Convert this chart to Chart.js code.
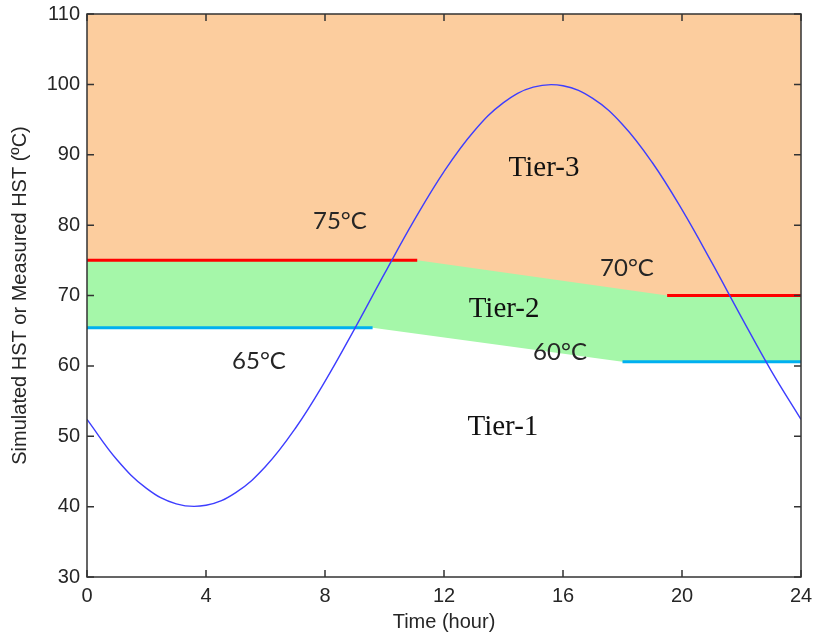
<!DOCTYPE html>
<html>
<head>
<meta charset="utf-8">
<script src="https://cdn.jsdelivr.net/npm/chart.js@4.4.0/dist/chart.umd.min.js"></script>
<style>
  html, body { margin: 0; padding: 0; background: #fff; }
</style>
</head>
<body>
<canvas id="c" width="815" height="636"></canvas>
<script>
// Curva de HST ao longo do dia (de hora em hora)
const hours = [0, 1, 2, 3, 4, 5, 6, 7, 8, 9, 10, 11, 12, 13, 14, 15, 16, 17, 18, 19, 20, 21, 22, 23, 24];
const hst = [52.4, 46.7, 42.6, 40.4, 40.2, 42.0, 45.7, 51.1, 57.8, 65.3, 73.1, 80.7, 87.6, 93.3, 97.4, 99.6, 99.8, 98.0, 94.3, 88.9, 82.2, 74.7, 66.9, 59.3, 52.4];

// Limites dos tiers (75/70 °C e 65/60 °C)
const upperHours = [0, 11.1, 19.5, 24];
const upperLimit = [75, 75, 70, 70];
const lowerHours = [0, 9.6, 18, 24];
const lowerLimit = [65.4, 65.4, 60.6, 60.6];

const xTicks = [0, 4, 8, 12, 16, 20, 24];
const yTicks = [30, 40, 50, 60, 70, 80, 90, 100, 110];

// Rótulos no interior do gráfico
const noteTexts = ['Tier-3', 'Tier-2', 'Tier-1', '75°C', '70°C', '65°C', '60°C'];
const noteHours = [15.36, 14.02, 13.98, 8.5, 18.15, 5.78, 15.9];
const noteTemps = [88.0, 68.0, 51.3, 80.6, 73.8, 60.6, 61.9];

const ORANGE = '#fccd9e';
const GREEN = '#a5f7a9';
const AXIS = '#333333';
const sansFont = "'Liberation Sans', Arial, sans-serif";

const pts = (xs, ys) => xs.map((x, i) => ({ x, y: ys[i] }));
const flatOnly = color => ctx => ctx.p0.parsed.y === ctx.p1.parsed.y ? color : 'rgba(0,0,0,0)';

const areaBg = {
  id: 'areaBg',
  beforeDraw(chart) {
    const { ctx, chartArea: a } = chart;
    ctx.save();
    ctx.fillStyle = ORANGE;
    ctx.fillRect(a.left, a.top, a.width, a.height);
    ctx.restore();
  }
};

const boxAndTicks = {
  id: 'boxAndTicks',
  afterDraw(chart) {
    const { ctx, chartArea: a, scales } = chart;
    ctx.save();
    ctx.strokeStyle = AXIS;
    ctx.lineWidth = 1.5;
    ctx.strokeRect(a.left, a.top, a.width, a.height);
    ctx.beginPath();
    const len = 7;
    for (const v of xTicks) {
      const px = scales.x.getPixelForValue(v);
      ctx.moveTo(px, a.bottom); ctx.lineTo(px, a.bottom - len);
      ctx.moveTo(px, a.top); ctx.lineTo(px, a.top + len);
    }
    for (const v of yTicks) {
      const py = scales.y.getPixelForValue(v);
      ctx.moveTo(a.left, py); ctx.lineTo(a.left + len, py);
      ctx.moveTo(a.right, py); ctx.lineTo(a.right - len, py);
    }
    ctx.stroke();

    // textos dos tiers e temperaturas
    ctx.textAlign = 'center';
    ctx.textBaseline = 'middle';
    noteTexts.forEach((txt, i) => {
      const isTier = txt.startsWith('Tier');
      ctx.font = isTier ? "29px 'Liberation Serif', 'Times New Roman', serif" : "24px Lato, 'Open Sans', sans-serif";
      ctx.fillStyle = isTier ? '#111' : '#262626';
      ctx.fillText(txt, scales.x.getPixelForValue(noteHours[i]), scales.y.getPixelForValue(noteTemps[i]));
    });
    ctx.restore();
  }
};

new Chart(document.getElementById('c'), {
  type: 'line',
  data: {
    datasets: [
      {
        label: 'HST',
        data: pts(hours, hst),
        borderColor: '#3d3dff',
        borderWidth: 1.4,
        pointRadius: 0,
        tension: 0.4,
        fill: false,
        order: 0
      },
      {
        label: 'Tier-3 limit',
        data: pts(upperHours, upperLimit),
        borderColor: '#ff0000',
        borderWidth: 3,
        segment: { borderColor: flatOnly('#ff0000') },
        pointRadius: 0,
        tension: 0,
        fill: false,
        order: 1
      },
      {
        label: 'Tier-2 limit',
        data: pts(lowerHours, lowerLimit),
        borderColor: '#00b0f0',
        borderWidth: 3,
        segment: { borderColor: flatOnly('#00b0f0') },
        pointRadius: 0,
        tension: 0,
        fill: false,
        order: 1
      },
      {
        label: 'Tier-2 band',
        data: pts(upperHours, upperLimit),
        borderWidth: 0,
        borderColor: 'rgba(0,0,0,0)',
        backgroundColor: GREEN,
        pointRadius: 0,
        tension: 0,
        fill: 'start',
        order: 5
      },
      {
        label: 'Tier-1 band',
        data: pts(lowerHours, lowerLimit),
        borderWidth: 0,
        borderColor: 'rgba(0,0,0,0)',
        backgroundColor: '#ffffff',
        pointRadius: 0,
        tension: 0,
        fill: 'start',
        order: 4
      }
    ]
  },
  options: {
    responsive: false,
    animation: false,
    layout: { padding: { top: 14, right: 14, left: 0, bottom: 0 } },
    plugins: {
      legend: { display: false },
      tooltip: { enabled: false }
    },
    scales: {
      x: {
        type: 'linear',
        min: 0,
        max: 24,
        afterBuildTicks: s => { s.ticks = xTicks.map(v => ({ value: v })); },
        afterFit: s => { s.height = 59; s.paddingRight = 0; s.paddingLeft = 0; },
        grid: { display: false, drawTicks: false },
        border: { display: false },
        ticks: { padding: 7, color: '#262626', font: { family: sansFont, size: 20 }, maxRotation: 0 },
        title: { display: true, text: 'Time (hour)', color: '#262626', font: { family: sansFont, size: 20 }, padding: { top: 0, bottom: 2 } }
      },
      y: {
        type: 'linear',
        min: 30,
        max: 110,
        afterBuildTicks: s => { s.ticks = yTicks.map(v => ({ value: v })); },
        afterFit: s => { s.width = 87; s.paddingTop = 0; s.paddingBottom = 0; },
        grid: { display: false, drawTicks: false },
        border: { display: false },
        ticks: { padding: 7, color: '#262626', font: { family: sansFont, size: 20 } },
        title: { display: true, text: 'Simulated HST or Measured HST (ºC)', color: '#262626', font: { family: sansFont, size: 20 }, padding: { top: 8, bottom: 0 } }
      }
    }
  },
  plugins: [areaBg, boxAndTicks]
});
</script>
</body>
</html>
